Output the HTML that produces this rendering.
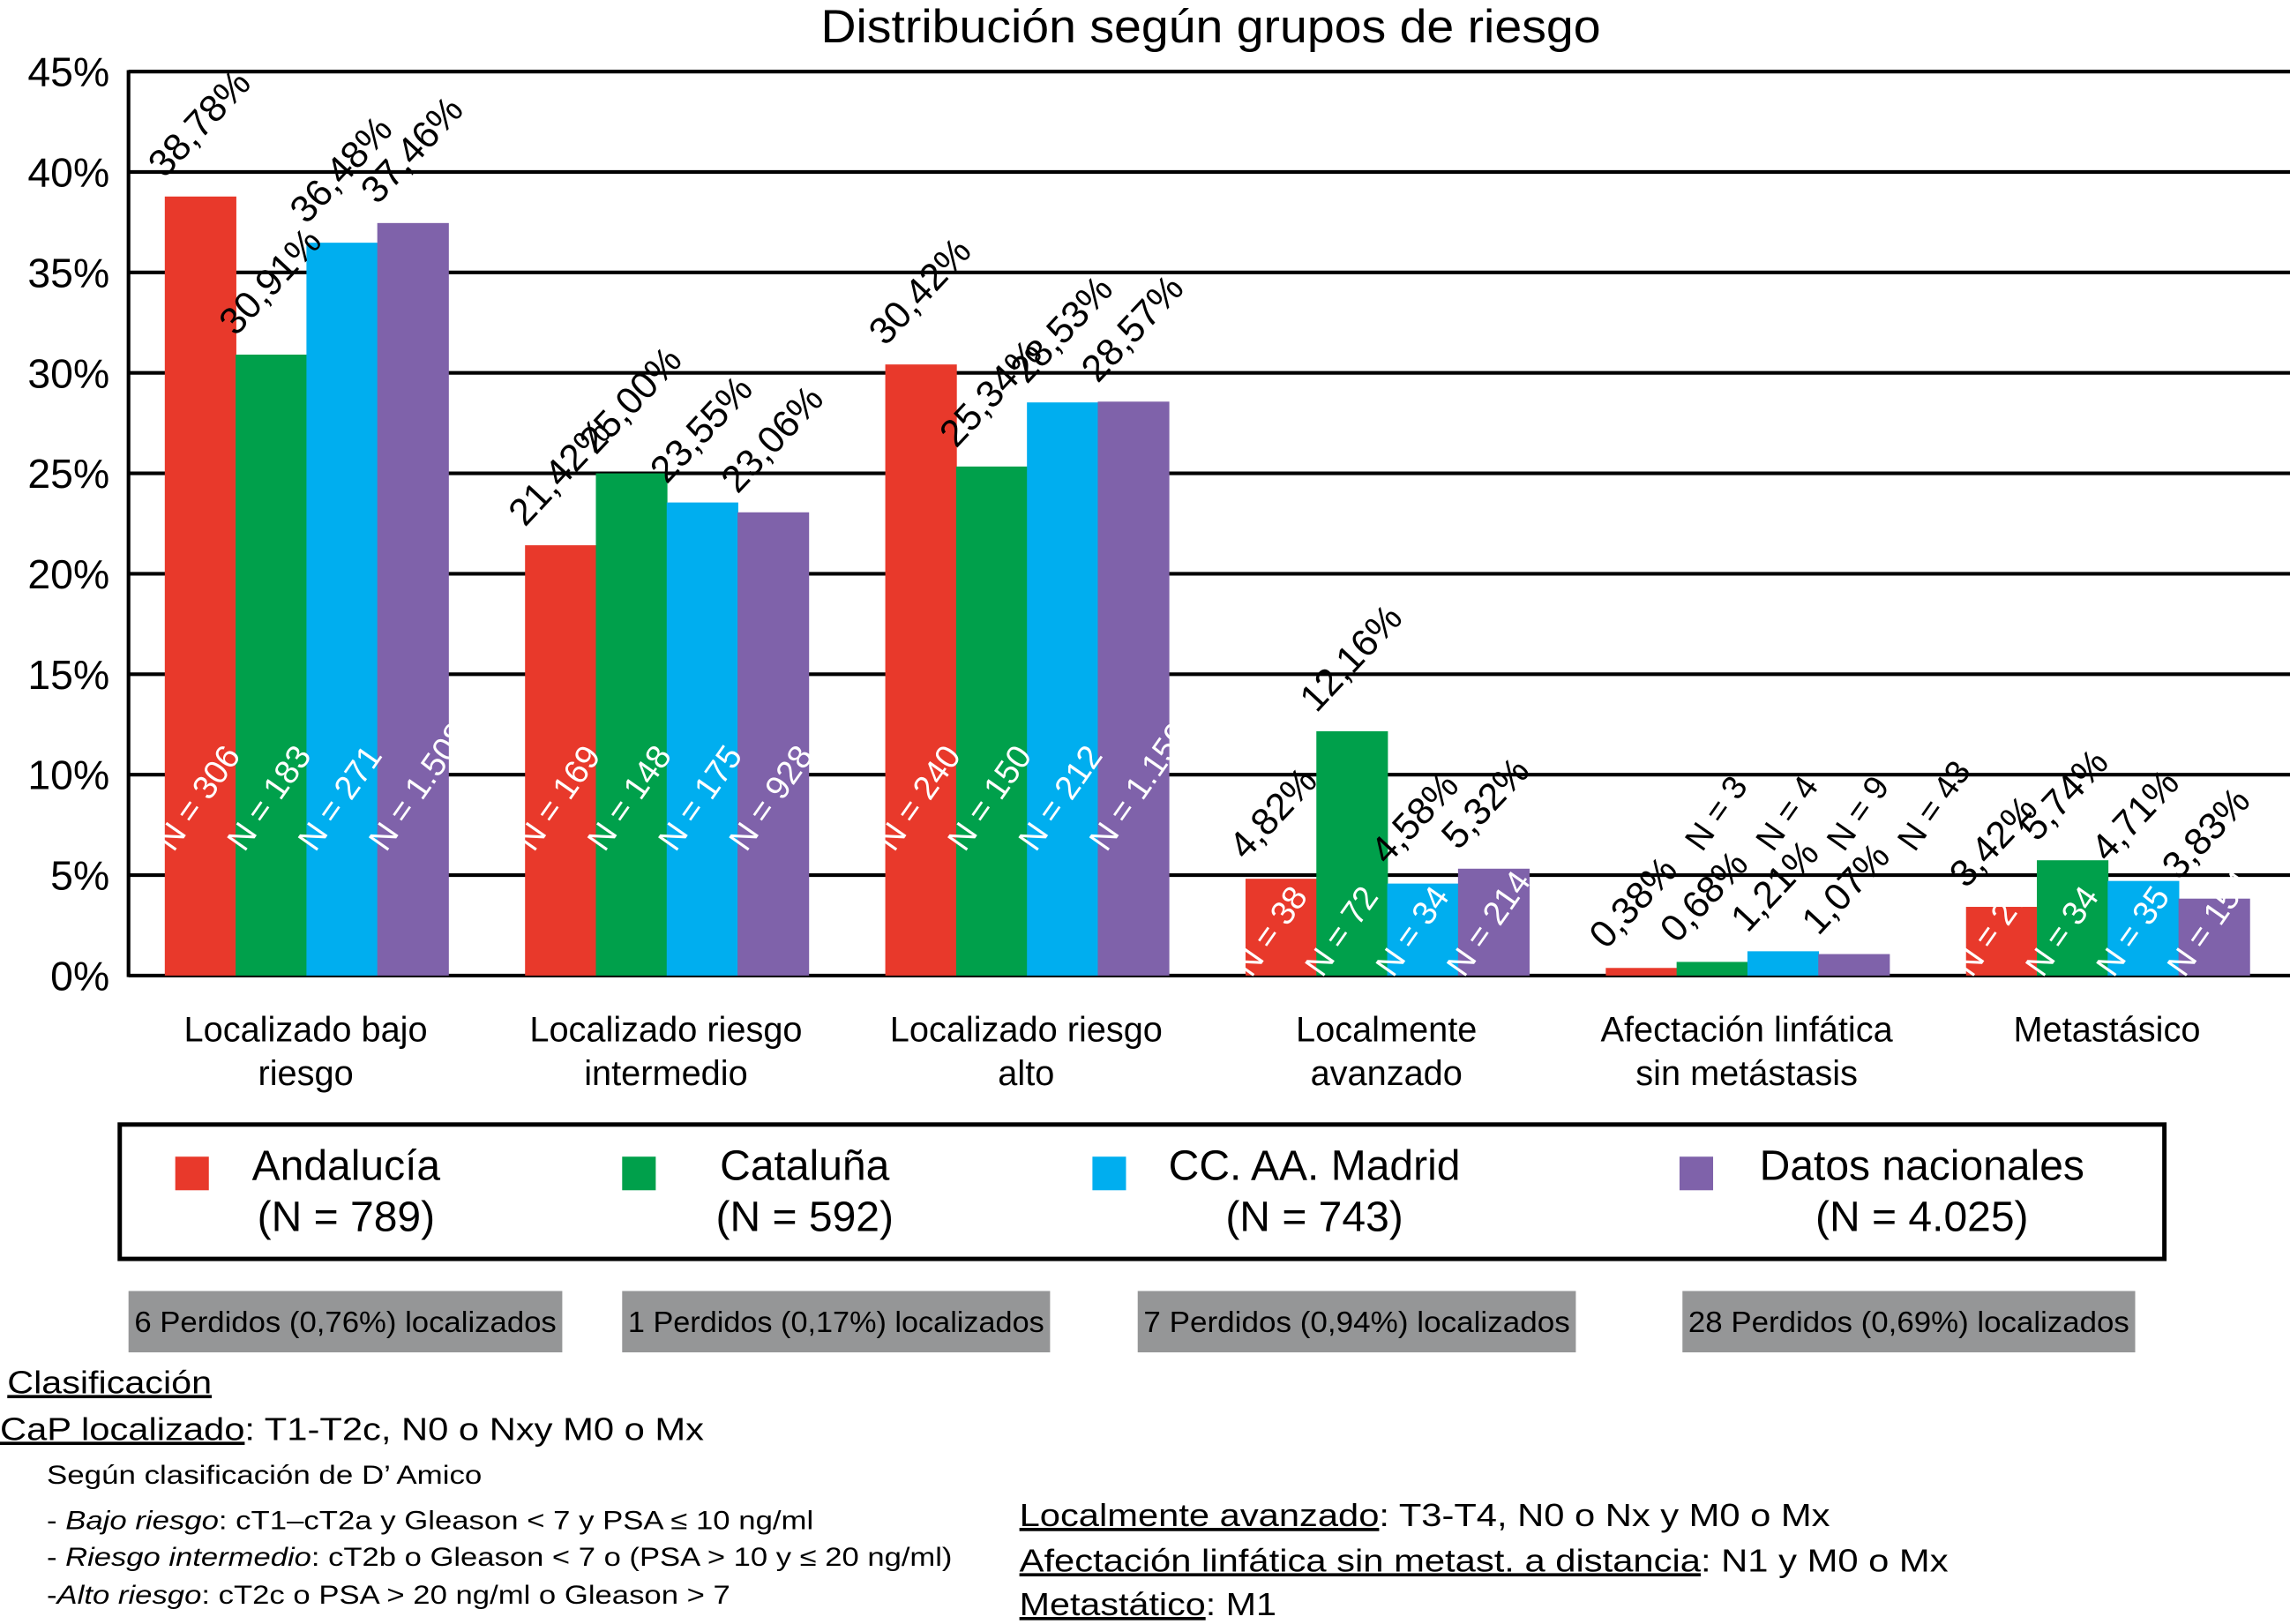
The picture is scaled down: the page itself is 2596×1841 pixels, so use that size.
<!DOCTYPE html>
<html><head><meta charset="utf-8"><style>
html,body{margin:0;padding:0;background:#fff}
svg{display:block}
text{font-family:"Liberation Sans",Arial,sans-serif}
</style></head><body>
<svg id="chart" width="2596" height="1841" viewBox="0 0 1568 1112" preserveAspectRatio="none" xmlns="http://www.w3.org/2000/svg">
<rect x="0" y="0" width="1568" height="1112" fill="#fff"/>
<text x="829" y="29" font-size="32" text-anchor="middle" textLength="534" lengthAdjust="spacingAndGlyphs">Distribución según grupos de riesgo</text>
<g id="grid"></g><g id="bars"></g><g id="labels"></g>
<line x1="88" y1="48" x2="88" y2="669" stroke="#000" stroke-width="2.5"/>
<g>
<rect x="82" y="770" width="1400" height="92" fill="none" stroke="#000" stroke-width="3"/>
<g id="legend-items"></g>
</g>
<g id="lost"></g>
<g font-size="22">
<text x="5" y="954" textLength="140" lengthAdjust="spacingAndGlyphs" text-decoration="underline">Clasificación</text>
<text x="0" y="986" textLength="482" lengthAdjust="spacingAndGlyphs"><tspan text-decoration="underline">CaP localizado</tspan>: T1-T2c, N0 o Nxy M0 o Mx</text>
<text x="32" y="1016" font-size="18" textLength="298" lengthAdjust="spacingAndGlyphs">Según clasificación de D’ Amico</text>
<text x="32" y="1047" font-size="18" textLength="525" lengthAdjust="spacingAndGlyphs">- <tspan font-style="italic">Bajo riesgo</tspan>: cT1–cT2a y Gleason &lt; 7 y PSA ≤ 10 ng/ml</text>
<text x="32" y="1072" font-size="18" textLength="620" lengthAdjust="spacingAndGlyphs">- <tspan font-style="italic">Riesgo intermedio</tspan>: cT2b o Gleason &lt; 7 o (PSA &gt; 10 y ≤ 20 ng/ml)</text>
<text x="32" y="1098" font-size="18" textLength="468" lengthAdjust="spacingAndGlyphs">-<tspan font-style="italic">Alto riesgo</tspan>: cT2c o PSA &gt; 20 ng/ml o Gleason &gt; 7</text>
<text x="698" y="1045" textLength="555" lengthAdjust="spacingAndGlyphs"><tspan text-decoration="underline">Localmente avanzado</tspan>: T3-T4, N0 o Nx y M0 o Mx</text>
<text x="698" y="1076" textLength="636" lengthAdjust="spacingAndGlyphs"><tspan text-decoration="underline">Afectación linfática sin metast. a distancia</tspan>: N1 y M0 o Mx</text>
<text x="698" y="1106" textLength="176" lengthAdjust="spacingAndGlyphs"><tspan text-decoration="underline">Metastático</tspan>: M1</text>
</g>
</svg>
<script>
const categories = [["Localizado bajo","riesgo"],["Localizado riesgo","intermedio"],["Localizado riesgo","alto"],["Localmente","avanzado"],["Afectación linfática","sin metástasis"],["Metastásico",""]];
const seriesNames = ["Andalucía","Cataluña","CC. AA. Madrid","Datos nacionales"];
const seriesTotals = ["(N = 789)","(N = 592)","(N = 743)","(N = 4.025)"];
const andalucia = [38.78,21.42,30.42,4.82,0.38,3.42];
const cataluna = [30.91,25.00,25.34,12.16,0.68,5.74];
const madrid = [36.48,23.55,28.53,4.58,1.21,4.71];
const nacional = [37.46,23.06,28.57,5.32,1.07,3.83];
const nAndalucia = ["306","169","240","38","3","27"];
const nCataluna = ["183","148","150","72","4","34"];
const nMadrid = ["271","175","212","34","9","35"];
const nNacional = ["1.508","928","1.150","214","43","154"];
const yTicks = [0,5,10,15,20,25,30,35,40,45];
const lostLabels = ["6 Perdidos (0,76%) localizados","1 Perdidos (0,17%) localizados","7 Perdidos (0,94%) localizados","28 Perdidos (0,69%) localizados"];

const colors = ["#e8392b","#00a04b","#00aeef","#7f62aa"];
const NS="http://www.w3.org/2000/svg";
const X0=88,X1=1568,Y0=668,Y1=49;
const yScale=v=>Y0-(v/45)*(Y0-Y1);
const gw=(X1-X0)/categories.length, bw=48.5, pad=(gw-4*bw)/2-1.5;
const xBar=(g,s)=>X0+g*gw+pad+s*bw;
function el(tag,attrs,parent,txt){const e=document.createElementNS(NS,tag);for(const k in attrs)e.setAttribute(k,attrs[k]);if(txt!==undefined)e.textContent=txt;parent.appendChild(e);return e;}
const grid=document.getElementById('grid'),bars=document.getElementById('bars'),labels=document.getElementById('labels');
yTicks.forEach(t=>{const y=yScale(t);
 const l=el('line',{x1:X0,x2:X1,y1:y,y2:y,stroke:'#000','stroke-width':2.5},grid);
 
 
 const tx=el('text',{x:75,y:y+10,'font-size':28,'text-anchor':'end'},grid,t+'%');
 
 
});
const series=[andalucia,cataluna,madrid,nacional];
const nser=[nAndalucia,nCataluna,nMadrid,nNacional];
const fmt=v=>v.toFixed(2).replace('.',',')+'%';
categories.forEach((c,g)=>{
 series.forEach((arr,s)=>{
  const v=arr[g],x=xBar(g,s),y=yScale(v);
  const r=el('rect',{x:x,y:y,width:bw+0.5,height:Y0-y,fill:colors[s]},bars);
  
  
  const vx=x,vy=y-12;
  const vt=el('text',{x:vx,y:vy,'font-size':26,transform:`rotate(-47 ${vx} ${vy})`},labels,fmt(v));
  
  
  let nx,ny,fill='#fff';
  if(g===4){nx=x+66;ny=584;fill='#000';}
  else if(g===3||g===5){nx=x+4;ny=670;}
  else {nx=x+6;ny=584;}
  const nt=el('text',{x:nx,y:ny,'font-size':23,fill:fill,transform:`rotate(-55 ${nx} ${ny})`},labels,'N = '+nser[s][g]);
  
  
 });
 const cx=X0+g*gw+gw/2-2;
 const ct=el('text',{x:cx,y:713,'font-size':24,'text-anchor':'middle'},labels,c[0]);
 
 
 if(c[1]){const c2=el('text',{x:cx,y:743,'font-size':24,'text-anchor':'middle'},labels,c[1]);
 
 }
});
const li=document.getElementById('legend-items');
const legX=[120,426,748,1150], legC=[237,551,900,1316];
seriesNames.forEach((n,i)=>{
 const sq=el('rect',{x:legX[i],y:792,width:23,height:23,fill:colors[i]},li);
 
 
 const t=el('text',{x:legC[i],y:808,'font-size':29,'text-anchor':'middle'},li,n);
 
 
 const t2=el('text',{x:legC[i],y:843,'font-size':29,'text-anchor':'middle'},li,seriesTotals[i]);
 
 
});
const lost=document.getElementById('lost');
const lb=[[88,297],[426,293],[779,300],[1152,310]];
lostLabels.forEach((s,i)=>{
 const r=el('rect',{x:lb[i][0],y:884,width:lb[i][1],height:42,fill:'#959697'},lost);
 
 
 const t=el('text',{x:lb[i][0]+lb[i][1]/2,y:912,'font-size':20,'text-anchor':'middle',textLength:lb[i][1]-8,lengthAdjust:'spacingAndGlyphs'},lost,s);
 
 
});
</script>
</body></html>
